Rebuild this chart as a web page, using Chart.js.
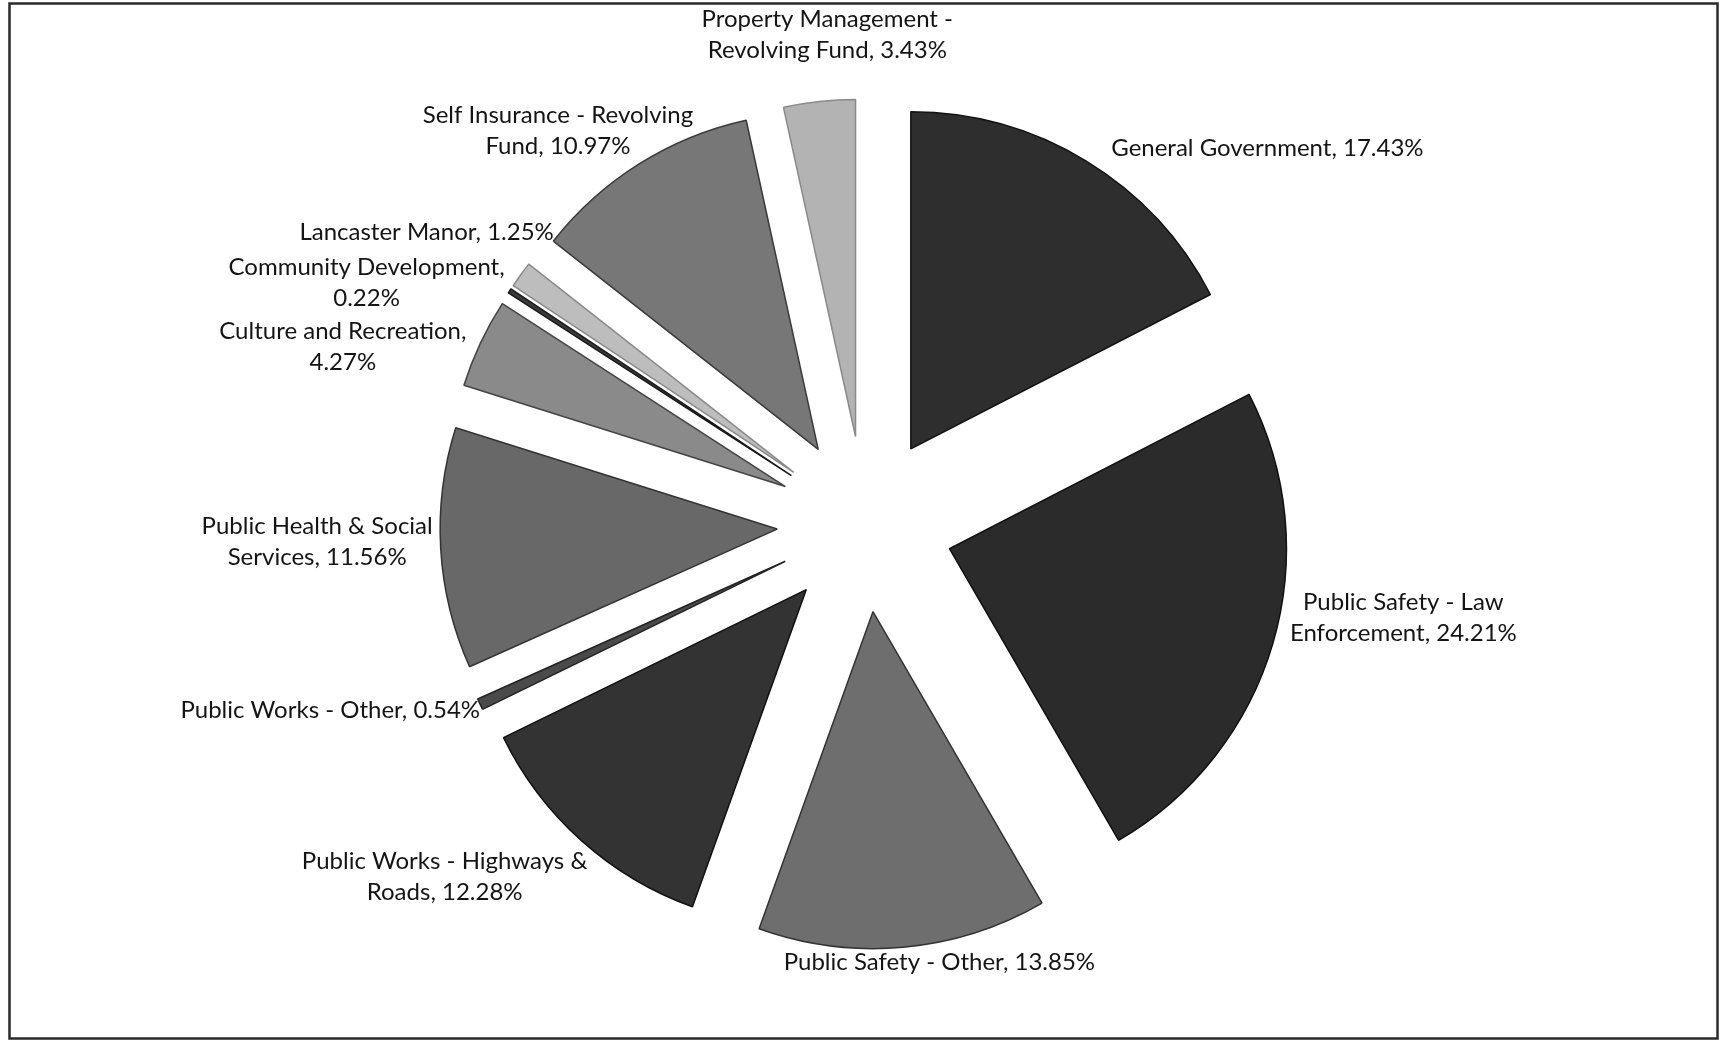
<!DOCTYPE html>
<html>
<head>
<meta charset="utf-8">
<title>Expenditures by Function</title>
<script src="https://cdn.jsdelivr.net/npm/chart.js@4.4.1/dist/chart.umd.min.js"></script>
<style>
  html, body { margin: 0; padding: 0; background: #fff; }
  canvas { display: block; }
</style>
</head>
<body>
<canvas id="function-pie" width="1720" height="1041"></canvas>
<script>
// Share of expenditures by function, clockwise from 12 o'clock
const categories = [
    "General Government",
    "Public Safety - Law Enforcement",
    "Public Safety - Other",
    "Public Works - Highways & Roads",
    "Public Works - Other",
    "Public Health & Social Services",
    "Culture and Recreation",
    "Community Development",
    "Lancaster Manor",
    "Self Insurance - Revolving Fund",
    "Property Management - Revolving Fund"
];
const shares = [17.43, 24.21, 13.85, 12.28, 0.54, 11.56, 4.27, 0.22, 1.25, 10.97, 3.43];

const sliceColors = ['#2e2e2e', '#2b2b2b', '#6e6e6e', '#333333', '#4a4a4a', '#686868',
                     '#8a8a8a', '#3a3a3a', '#bdbdbd', '#777777', '#b3b3b3'];
const sliceBorders = ['#111111', '#111111', '#333333', '#111111', '#222222', '#333333',
                      '#444444', '#1a1a1a', '#8a8a8a', '#3a3a3a', '#8a8a8a'];

// every slice is pulled out from the centre by the same distance
const EXPLODE = 88;
const PIE_RADIUS = 337;
const LABEL_FONT = '24px Lato';
const LINE_HEIGHT = 31;

// where each label block sits against its slice's outer point:
// align = which side of the block touches the point, dx/dy = nudge,
// split = words kept on the first line (0 means one line)
const labelLayout = [
    { align: 'left',   dx: 25,  dy: -13, split: 0 },
    { align: 'left',   dx: 17,  dy: -26, split: 4 },
    { align: 'center', dx: 36,  dy: 15,  split: 0 },
    { align: 'right',  dx: 6,   dy: 36,  split: 5 },
    { align: 'right',  dx: 0,   dy: 6,   split: 0 },
    { align: 'right',  dx: -8,  dy: -7,  split: 4 },
    { align: 'right',  dx: -14, dy: 4,   split: 3 },
    { align: 'right',  dx: -5,  dy: -8,  split: 2 },
    { align: 'right',  dx: 33,  dy: -42, split: 0 },
    { align: 'right',  dx: 54,  dy: -33, split: 4 },
    { align: 'center', dx: 8,   dy: -67, split: 3 }
];

function splitLabel(text, split) {
    if (!split) return [text];
    const words = text.split(' ');
    return [words.slice(0, split).join(' '), words.slice(split).join(' ')];
}

// white page with the thin box round the chart
const pageFrame = {
    id: 'pageFrame',
    beforeDraw(chart) {
        const ctx = chart.ctx;
        ctx.save();
        ctx.fillStyle = '#ffffff';
        ctx.fillRect(0, 0, chart.width, chart.height);
        ctx.strokeStyle = '#2a2a2a';
        ctx.lineWidth = 2.5;
        ctx.strokeRect(9.5, 3.5, 1708, 1035);
        ctx.restore();
    }
};

// move each arc out along its own bisector
const explodeSlices = {
    id: 'explodeSlices',
    afterDatasetUpdate(chart, args) {
        args.meta.data.forEach(arc => {
            const mid = (arc.startAngle + arc.endAngle) / 2;
            arc.x += Math.cos(mid) * EXPLODE;
            arc.y += Math.sin(mid) * EXPLODE;
        });
    }
};

// "Name, 12.34%" labels outside the slices
const sliceLabels = {
    id: 'sliceLabels',
    afterDatasetsDraw(chart) {
        const ctx = chart.ctx;
        const arcs = chart.getDatasetMeta(0).data;
        ctx.save();
        ctx.font = LABEL_FONT;
        ctx.fillStyle = '#141414';
        ctx.textAlign = 'center';
        ctx.textBaseline = 'middle';
        arcs.forEach((arc, i) => {
            const p = arc.getProps(['x', 'y', 'startAngle', 'endAngle', 'outerRadius'], true);
            const mid = (p.startAngle + p.endAngle) / 2;
            const ox = p.x + Math.cos(mid) * p.outerRadius;
            const oy = p.y + Math.sin(mid) * p.outerRadius;
            const lay = labelLayout[i];
            const lines = splitLabel(categories[i] + ', ' + shares[i].toFixed(2) + '%', lay.split);
            const w = Math.max(...lines.map(l => ctx.measureText(l).width));
            let cx = ox + lay.dx;
            if (lay.align === 'left') cx += w / 2;
            if (lay.align === 'right') cx -= w / 2;
            const top = oy + lay.dy - (lines.length - 1) * LINE_HEIGHT / 2;
            lines.forEach((line, k) => ctx.fillText(line, cx, top + k * LINE_HEIGHT));
        });
        ctx.restore();
    }
};

const ctx = document.getElementById('function-pie').getContext('2d');
new Chart(ctx, {
    type: 'pie',
    data: {
        labels: categories,
        datasets: [{
            data: shares,
            backgroundColor: sliceColors,
            borderColor: sliceBorders,
            borderWidth: 1.5,
            radius: PIE_RADIUS
        }]
    },
    options: {
        responsive: false,
        animation: false,
        events: [],
        layout: { padding: { left: 10, right: 0, top: 7, bottom: 0 } },
        plugins: {
            legend: { display: false },
            tooltip: { enabled: false }
        }
    },
    plugins: [pageFrame, explodeSlices, sliceLabels]
});
</script>
</body>
</html>
